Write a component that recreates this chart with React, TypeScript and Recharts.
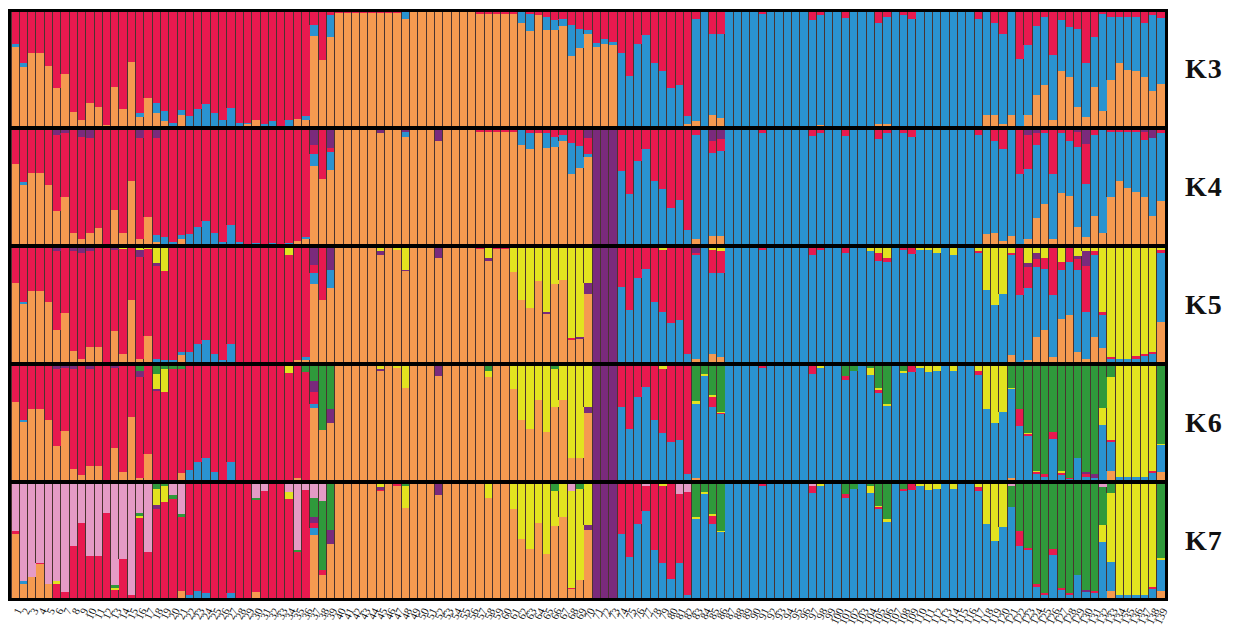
import { BarChart, Bar, XAxis, YAxis } from 'recharts';

// 139 individuals, membership (%) per cluster; red is what is left in each bar
const N = 139;
const IDS = Array.from({ length: N }, (_, i) => String(i + 1));

const span = (from: number, to: number, v: number) => {
  const m: Record<number, number> = {};
  for (let i = from; i <= to; i++) m[i] = v;
  return m;
};
const sparse = (m: Record<number, number>) => Array.from({ length: N }, (_, i) => m[i] ?? 0);

// ---- K3 ----
const K3_ORANGE = sparse({
  0: 69, 1: 52, 2: 64, 3: 64, 4: 53, 5: 33, 6: 46, 7: 12, 8: 5, 9: 20, 10: 17, 11: 1, 12: 34, 13: 15, 14: 56, 15: 8,
  16: 25, 17: 11, 18: 4, 20: 10, 28: 2, 29: 5, 34: 6, 35: 5, 36: 79, 37: 58, 38: 78,
  ...span(39, 46, 99), 47: 94, ...span(48, 55, 100), ...span(56, 60, 98),
  61: 90, 62: 83, 63: 97, 64: 84, 65: 84, 66: 88, 67: 61, 68: 68, 69: 81, 70: 69, 71: 72, 72: 71,
  81: 2, 82: 4, 84: 10, 85: 7, 97: 1, 104: 2, 105: 2, 117: 10, 118: 10, 119: 2, 120: 10, 122: 10, 123: 27, 124: 36,
  125: 5, 126: 48, 127: 43, 128: 17, 129: 8, 130: 34, 131: 13, 132: 40, 133: 55, 134: 49, 135: 48, 136: 43, 137: 31, 138: 37,
});
const K3_BLUE = sparse({
  0: 3, 1: 3, 15: 3, 17: 9, 18: 9, 19: 3, 20: 4, 21: 9, 22: 15, 23: 19, 24: 11, 25: 5, 26: 16, 27: 3, 28: 1, 30: 2, 31: 4,
  33: 5, 35: 4, 36: 10, 38: 19, 47: 6, 61: 10, 62: 15, 64: 12, 65: 9, 66: 6, 67: 28, 68: 17, 69: 3, 70: 4, 71: 4, 72: 3,
  73: 64, 74: 44, 75: 72, 76: 80, 77: 55, 78: 48, 79: 33, 80: 36, 81: 7, 82: 90, 83: 100, 84: 71, 85: 74,
  ...span(86, 138, 100), 90: 98, 96: 93, 97: 96, 100: 95, 104: 88, 105: 94, 107: 97, 108: 94, 116: 94, 117: 90, 118: 80,
  119: 79, 120: 90, 121: 59, 122: 61, 123: 61, 124: 60, 125: 57, 126: 45, 127: 44, 128: 68, 129: 47, 130: 44, 131: 85,
  132: 56, 133: 41, 134: 47, 135: 48, 136: 47, 137: 66, 138: 58,
});

// ---- K4 ----
const K4_ORANGE = sparse({
  0: 70, 1: 52, 2: 62, 3: 62, 4: 52, 5: 29, 6: 41, 7: 10, 8: 4, 9: 10, 10: 14, 12: 30, 13: 10, 14: 55, 15: 4, 16: 24,
  17: 2, 20: 4, 34: 3, 35: 4, 36: 68, 37: 57, 38: 65,
  ...span(39, 69, 100), 44: 97, 47: 94, 51: 90, 56: 98, 57: 98, 58: 98, 59: 98, 60: 98, 61: 87, 62: 83, 63: 97, 64: 84,
  65: 85, 66: 90, 67: 61, 68: 67, 69: 76,
  82: 4, 84: 7, 85: 7, 117: 9, 118: 10, 119: 3, 120: 7, 122: 4, 123: 23, 124: 35, 125: 4, 126: 45, 127: 42, 128: 15,
  129: 6, 130: 25, 131: 10, 132: 41, 133: 55, 134: 49, 135: 46, 136: 41, 137: 25, 138: 38,
});
const K4_BLUE = sparse({
  1: 2, 17: 6, 18: 6, 19: 2, 20: 4, 21: 9, 22: 15, 23: 20, 24: 10, 25: 2, 26: 17, 27: 2, 29: 1, 31: 1, 33: 1, 35: 2,
  36: 11, 38: 16, 47: 4, 61: 13, 62: 14, 64: 13, 65: 9, 66: 6, 67: 28, 68: 19, 69: 3,
  73: 64, 74: 44, 75: 73, 76: 83, 77: 55, 78: 48, 79: 32, 80: 39, 81: 12, 82: 92, ...span(83, 138, 100), 84: 73, 85: 75,
  90: 97, 96: 95, 97: 97, 100: 95, 104: 92, 105: 97, 107: 97, 108: 94, 116: 96, 117: 91, 118: 80, 119: 80, 120: 93,
  121: 61, 122: 62, 123: 64, 124: 62, 125: 57, 126: 52, 127: 48, 128: 70, 129: 47, 130: 71, 131: 90, 132: 57, 133: 43,
  134: 49, 135: 52, 136: 50, 137: 68, 138: 59,
});
const K4_PURPLE = sparse({
  5: 4, 6: 3, 8: 6, 9: 7, 15: 7, 17: 7, 36: 13, 38: 16, 44: 3, 47: 2, 51: 10, 69: 7, 70: 100, 71: 100, 72: 100,
  84: 10, 85: 8, 122: 4, 123: 3, 128: 2, 129: 12, 136: 2, 137: 7,
});

// ---- K5 ----
const K5_ORANGE = sparse({
  0: 69, 1: 51, 2: 62, 3: 62, 4: 53, 5: 28, 6: 43, 7: 10, 8: 3, 9: 13, 10: 13, 12: 27, 13: 7, 14: 54, 15: 3, 16: 23,
  20: 6, 34: 2, 35: 2, 36: 68, 37: 54, 38: 65,
  ...span(39, 69, 100), 44: 94, 46: 98, 47: 80, 51: 91, 56: 99, 57: 89, 58: 99, 59: 99, 60: 79, 61: 54, 62: 47, 63: 71,
  64: 42, 65: 68, 66: 72, 67: 19, 68: 20, 69: 60,
  82: 3, 84: 7, 85: 4, 120: 6, 122: 2, 123: 22, 124: 28, 125: 4, 126: 38, 127: 41, 128: 9, 129: 3, 130: 22, 131: 12, 138: 35,
});
const K5_BLUE = sparse({
  1: 2, 17: 3, 18: 2, 19: 2, 20: 3, 21: 9, 22: 16, 23: 19, 24: 7, 25: 2, 26: 16, 35: 2, 36: 10, 38: 16,
  73: 66, 74: 46, 75: 74, 76: 82, 77: 53, 78: 44, 79: 34, 80: 37, 81: 7, 82: 91, ...span(83, 116, 100), 84: 71, 85: 74,
  90: 98, 96: 94, 97: 98, 100: 96, 103: 97, 104: 89, 105: 88, 107: 98, 108: 95, 109: 98, 110: 98, 111: 96, 113: 94, 116: 96,
  117: 63, 118: 50, 119: 60, 120: 88, 121: 59, 122: 63, 123: 61, 124: 54, 125: 55, 126: 43, 127: 47, 128: 72, 129: 41,
  130: 72, 131: 29, 132: 3, 133: 3, 134: 3, 135: 3, 136: 5, 137: 7, 138: 61,
});
const K5_PURPLE = sparse({
  5: 3, 7: 3, 8: 4, 9: 3, 12: 2, 15: 6, 17: 3, 36: 15, 38: 19, 44: 3, 47: 1, 51: 9, 57: 2, 64: 2, 68: 2, 69: 9,
  70: 100, 71: 100, 72: 100, 82: 4, 122: 4, 123: 6, 128: 3, 129: 13,
});
const K5_YELLOW = sparse({
  13: 1, 15: 2, 16: 1, 17: 13, 18: 20, 33: 6, 44: 3, 46: 2, 47: 19, 57: 9, 60: 21, 61: 46, 62: 53, 63: 29, 64: 56,
  65: 32, 66: 28, 67: 79, 68: 78, 69: 31, 78: 2, 84: 2, 85: 3, 103: 3, 104: 4, 105: 9, 109: 2, 110: 2, 111: 4, 113: 6,
  116: 3, 117: 37, 118: 50, 119: 40, 120: 4, 122: 13, 123: 4, 124: 9, 126: 12, 128: 7, 129: 3, 130: 3, 131: 56,
  132: 96, 133: 97, 134: 97, 135: 95, 136: 93, 137: 91, 138: 2,
});

// ---- K6 ----
const K6_ORANGE = sparse({
  0: 68, 1: 51, 2: 62, 3: 62, 4: 53, 5: 30, 6: 43, 7: 10, 8: 4, 9: 12, 10: 12, 12: 28, 13: 7, 14: 55, 15: 2, 16: 23,
  20: 6, 34: 2, 36: 63, 37: 44, 38: 50,
  ...span(39, 69, 100), 44: 96, 46: 98, 47: 81, 51: 91, 57: 90, 60: 80, 61: 53, 62: 45, 63: 70, 64: 42, 65: 64,
  66: 70, 67: 19, 68: 19, 69: 59,
  82: 2, 120: 2, 132: 8, 138: 7,
});
const K6_BLUE = sparse({
  1: 2, 21: 9, 22: 16, 23: 19, 24: 7, 26: 16, 36: 4,
  73: 64, 74: 45, 75: 73, 76: 82, 77: 53, 78: 41, 79: 33, 80: 35, 81: 5, 82: 65, 83: 91, 84: 64, 85: 58,
  ...span(86, 116, 100), 90: 98, 96: 93, 97: 98, 100: 88, 101: 96, 103: 92, 104: 76, 105: 65, 107: 94, 108: 95,
  109: 98, 110: 95, 111: 96, 113: 96, 116: 92,
  117: 62, 118: 50, 119: 60, 120: 78, 121: 47, 122: 39, 123: 5, 124: 3, 125: 36, 126: 4, 127: 1, 128: 19, 129: 3,
  130: 2, 131: 48, 132: 25, 133: 3, 134: 3, 135: 3, 136: 3, 137: 6, 138: 24,
});
const K6_PURPLE = sparse({
  5: 3, 6: 2, 7: 3, 9: 3, 12: 2, 15: 6, 17: 2, 36: 10, 38: 12, 44: 1, 51: 9, 69: 5, 70: 100, 71: 100, 72: 100,
  129: 2, 130: 3,
});
const K6_YELLOW = sparse({
  17: 13, 18: 20, 33: 6, 44: 3, 46: 2, 47: 19, 57: 6, 60: 20, 61: 47, 62: 55, 63: 30, 64: 58, 65: 33, 66: 30,
  67: 81, 68: 81, 69: 36, 78: 3, 82: 2, 83: 2, 84: 2, 85: 1, 97: 2, 103: 6, 104: 2, 105: 2, 107: 2, 109: 2, 110: 5,
  111: 4, 113: 4, 116: 4, 117: 38, 118: 50, 119: 40, 120: 1, 122: 1, 123: 1, 126: 2, 131: 15, 132: 55, 133: 97,
  134: 97, 135: 97, 136: 97, 137: 92, 138: 1,
});
const K6_GREEN = sparse({
  15: 4, 17: 7, 18: 3, 19: 3, 20: 3, 35: 5, 36: 13, 37: 56, 38: 38, 57: 4, 65: 3, 82: 31, 83: 7, 84: 25, 85: 40,
  100: 9, 101: 4, 103: 2, 104: 19, 105: 33, 107: 4, 120: 19, 121: 38, 122: 59, 123: 92, 124: 95, 125: 58, 126: 92,
  127: 98, 128: 81, 129: 93, 130: 95, 131: 37, 132: 10, 138: 68,
});

// ---- K7 ----
const K7_ORANGE = sparse({
  0: 56, 1: 12, 2: 18, 3: 30, 4: 12, 20: 6, 29: 5, 36: 55, 37: 20, 38: 47,
  ...span(39, 69, 100), 44: 94, 46: 98, 47: 79, 51: 90, 57: 88, 60: 78, 61: 52, 62: 43, 63: 66, 64: 39, 65: 63,
  66: 71, 67: 8, 68: 16, 69: 60,
  132: 6, 138: 6,
});
const K7_BLUE = sparse({
  1: 3, 21: 3, 22: 6, 23: 4, 26: 4, 36: 6,
  73: 56, 74: 36, 75: 65, 76: 76, 77: 42, 78: 31, 79: 17, 80: 31, 81: 3, 82: 69, 83: 91, 84: 65, 85: 58,
  ...span(86, 116, 100), 90: 98, 96: 92, 97: 98, 100: 88, 101: 96, 103: 92, 104: 78, 105: 67, 107: 94, 108: 95,
  109: 98, 110: 95, 111: 96, 113: 96, 116: 94,
  117: 65, 118: 50, 119: 62, 120: 80, 121: 46, 122: 42, 123: 10, 124: 3, 125: 38, 126: 7, 127: 3, 128: 20, 129: 5,
  130: 4, 131: 49, 132: 26, 133: 3, 134: 3, 135: 3, 136: 3, 137: 8, 138: 27,
});
const K7_PURPLE = sparse({ 17: 4, 36: 5, 38: 13, 44: 2, 51: 10, 69: 4, 70: 100, 71: 100, 72: 100, 129: 2 });
const K7_YELLOW = sparse({
  5: 3, 12: 2, 15: 2, 17: 14, 18: 14, 33: 6, 44: 3, 47: 19, 57: 12, 60: 22, 61: 48, 62: 57, 63: 34, 64: 61, 65: 31,
  66: 29, 67: 85, 68: 80, 69: 36, 78: 2, 82: 2, 83: 2, 84: 2, 85: 1, 97: 2, 103: 6, 104: 1, 105: 2, 109: 2, 110: 5,
  111: 4, 113: 4, 116: 3, 117: 35, 118: 50, 119: 38, 131: 15, 132: 60, 133: 97, 134: 97, 135: 97, 136: 97, 137: 90, 138: 2,
});
const K7_GREEN = sparse({
  12: 2, 15: 3, 17: 4, 18: 2, 19: 3, 20: 3, 29: 2, 34: 2, 36: 17, 37: 60, 38: 40, 47: 2, 65: 6, 68: 4, 82: 29, 83: 7,
  84: 26, 85: 41, 100: 9, 101: 4, 103: 2, 104: 19, 105: 31, 107: 4, 120: 18, 121: 41, 122: 56, 123: 88, 124: 96,
  125: 57, 126: 91, 127: 96, 128: 80, 129: 93, 130: 94, 131: 33, 132: 8, 138: 65,
});
const K7_PINK = sparse({
  0: 41, 1: 85, 2: 82, 3: 69, 4: 88, 5: 85, 6: 95, 7: 54, 8: 34, 9: 63, 10: 63, 11: 25, 12: 89, 13: 66, 14: 97,
  15: 25, 16: 60, 19: 10, 20: 26, 29: 12, 30: 6, 33: 7, 34: 58, 35: 5, 36: 12, 37: 15, 67: 6, 76: 2, 80: 9, 81: 7,
  96: 2, 120: 2, 131: 3,
});

const COLORS: Record<string, string> = {
  orange: '#F59A50',
  blue: '#2A93D0',
  red: '#E8194F',
  purple: '#7A2A7C',
  yellow: '#E2E31F',
  green: '#2F993B',
  pink: '#E59BC6',
};
// bottom to top
const ORDER = ['orange', 'blue', 'red', 'purple', 'yellow', 'green', 'pink'];

const PANELS: { name: string; q: Record<string, number[]> }[] = [
  { name: 'K3', q: { orange: K3_ORANGE, blue: K3_BLUE } },
  { name: 'K4', q: { orange: K4_ORANGE, blue: K4_BLUE, purple: K4_PURPLE } },
  { name: 'K5', q: { orange: K5_ORANGE, blue: K5_BLUE, purple: K5_PURPLE, yellow: K5_YELLOW } },
  { name: 'K6', q: { orange: K6_ORANGE, blue: K6_BLUE, purple: K6_PURPLE, yellow: K6_YELLOW, green: K6_GREEN } },
  {
    name: 'K7',
    q: { orange: K7_ORANGE, blue: K7_BLUE, purple: K7_PURPLE, yellow: K7_YELLOW, green: K7_GREEN, pink: K7_PINK },
  },
];

const PLOT_W = 1154;
const PANEL_H = 114;
const GAP = 4;
const AXIS_H = 38;
const SPARE_R = 12; // room right of the last tick so its label is not clipped

function buildRows(q: Record<string, number[]>) {
  return IDS.map((id, i) => {
    const row: Record<string, number | string> = { id };
    let used = 0;
    for (const k of Object.keys(q)) {
      row[k] = q[k][i];
      used += q[k][i];
    }
    row.red = Math.max(0, 100 - used);
    return row;
  });
}

// filled segment with a thin dark rule on its left edge (bar separator)
const Segment = (props: any) => {
  const { x, y, width, height, fill } = props;
  if (!height || height <= 0) return <g />;
  return (
    <g>
      <rect x={x} y={y} width={width} height={height} fill={fill} shapeRendering="crispEdges" />
      <line x1={x} x2={x} y1={y} y2={y + height} stroke="#4a3430" strokeWidth={1} shapeRendering="crispEdges" />
    </g>
  );
};

function Panel({ q, last }: { q: Record<string, number[]>; last: boolean }) {
  const rows = buildRows(q);
  const keys = ORDER.filter((k) => k === 'red' || k in q);
  return (
    <BarChart
      width={PLOT_W + SPARE_R}
      height={last ? PANEL_H + AXIS_H : PANEL_H}
      data={rows}
      margin={{ top: 0, right: SPARE_R, bottom: 0, left: 0 }}
      barCategoryGap={0}
      barGap={0}
    >
      <XAxis
        dataKey="id"
        hide={!last}
        interval={0}
        angle={-65}
        textAnchor="end"
        height={AXIS_H}
        tickLine={false}
        axisLine={false}
        tickMargin={3}
        tick={{ fontSize: 11, fill: '#111', fontFamily: '"Liberation Serif", serif' }}
      />
      <YAxis hide domain={[0, 100]} allowDataOverflow />
      {keys.map((k) => (
        <Bar key={k} dataKey={k} stackId="q" fill={COLORS[k]} isAnimationActive={false} shape={Segment} />
      ))}
    </BarChart>
  );
}

export default function App() {
  return (
    <div style={{ position: 'relative', width: 1227, height: 630 }}>
      <div
        style={{
          position: 'absolute',
          left: 0,
          top: 1,
          width: PLOT_W,
          border: '3px solid #000',
          background: '#000',
        }}
      >
        {PANELS.map((p, k) => (
          <div
            key={p.name}
            style={{ height: PANEL_H, marginTop: k ? GAP : 0, background: '#fff', overflow: 'visible' }}
          >
            <Panel q={p.q} last={k === PANELS.length - 1} />
          </div>
        ))}
      </div>
      {PANELS.map((p, k) => (
        <div
          key={p.name + '-label'}
          style={{
            position: 'absolute',
            left: 1177,
            top: 4 + k * (PANEL_H + GAP) + PANEL_H / 2 - 14,
            height: 28,
            lineHeight: '28px',
            fontFamily: '"Liberation Serif", "Times New Roman", serif',
            fontWeight: 'bold',
            fontSize: 28,
            letterSpacing: 1,
            color: '#111',
          }}
        >
          {p.name}
        </div>
      ))}
    </div>
  );
}
